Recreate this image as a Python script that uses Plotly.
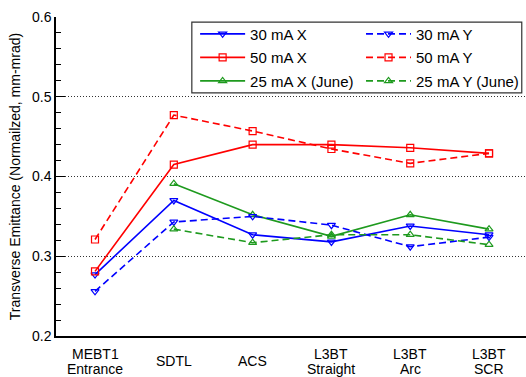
import plotly.graph_objects as go

# ---- data ----
categories = ["MEBT1 Entrance", "SDTL", "ACS", "L3BT Straight", "L3BT Arc", "L3BT SCR"]
cat_line1 = ["MEBT1", "SDTL", "ACS", "L3BT", "L3BT", "L3BT"]
cat_line2 = ["Entrance", "", "", "Straight", "Arc", "SCR"]

ma30_x = [0.277, 0.370, 0.327, 0.318, 0.338, 0.327]
ma30_y = [0.256, 0.343, 0.350, 0.339, 0.312, 0.324]
ma50_x = [0.281, 0.415, 0.440, 0.440, 0.436, 0.429]
ma50_y = [0.321, 0.477, 0.457, 0.4345, 0.4165, 0.429]
ma25_x = [None, 0.391, 0.352, 0.325, 0.352, 0.334]
ma25_y = [None, 0.334, 0.317, 0.327, 0.327, 0.3145]

y_ticks = [0.2, 0.3, 0.4, 0.5, 0.6]

BLUE = "#0000ff"
RED = "#ff0000"
GREEN = "#1e9a1e"
FONT = "Liberation Sans, Arial, sans-serif"

series = [
    ("30 mA X", ma30_x, BLUE, "solid", "triangle-down-open", "legend"),
    ("50 mA X", ma50_x, RED, "solid", "square-open", "legend"),
    ("25 mA X (June)", ma25_x, GREEN, "solid", "triangle-up-open", "legend"),
    ("30 mA Y", ma30_y, BLUE, "7px,4px", "triangle-down-open", "legend2"),
    ("50 mA Y", ma50_y, RED, "7px,4px", "square-open", "legend2"),
    ("25 mA Y (June)", ma25_y, GREEN, "7px,4px", "triangle-up-open", "legend2"),
]

fig = go.Figure()
for name, vals, color, dash, sym, leg in series:
    fig.add_trace(go.Scatter(
        x=categories, y=vals, name=name, mode="lines+markers",
        line=dict(color=color, width=1.6, dash=dash),
        marker=dict(symbol=sym, size=7, color=color, line=dict(width=1.2, color=color)),
        legend=leg, legendgroup=name,
    ))

annotations = []
for c, l1, l2 in zip(categories, cat_line1, cat_line2):
    if l2:
        annotations.append(dict(x=c, xref="x", y=0, yref="paper", text=l1, showarrow=False,
                                yanchor="middle", yshift=-18, font=dict(size=14, color="black", family=FONT)))
        annotations.append(dict(x=c, xref="x", y=0, yref="paper", text=l2, showarrow=False,
                                yanchor="middle", yshift=-33, font=dict(size=14, color="black", family=FONT)))
    else:
        annotations.append(dict(x=c, xref="x", y=0, yref="paper", text=l1, showarrow=False,
                                yanchor="middle", yshift=-25, font=dict(size=14, color="black", family=FONT)))

leg_common = dict(bgcolor="rgba(0,0,0,0)", borderwidth=0, font=dict(size=15, family=FONT, color="black"),
                  xanchor="left", yanchor="top", tracegroupgap=1, itemwidth=45)

fig.update_layout(
    width=526, height=377,
    margin=dict(l=56, r=0, t=17, b=41),
    paper_bgcolor="white", plot_bgcolor="white",
    font=dict(family=FONT, color="black"),
    showlegend=True,
    legend=dict(x=0.296, y=0.998, **leg_common),
    legend2=dict(x=0.649, y=0.998, **leg_common),
    annotations=annotations,
    shapes=[dict(type="rect", xref="paper", yref="paper", x0=0.289, x1=0.991, y0=0.762, y1=0.984,
                 line=dict(color="#333333", width=1.2), fillcolor="rgba(0,0,0,0)")],
    xaxis=dict(type="category", range=[-0.495, 5.469], showticklabels=False, ticks="",
               showgrid=False, showline=True, linecolor="black", linewidth=2, zeroline=False),
    yaxis=dict(range=[0.2, 0.6], tickvals=y_ticks, ticktext=[f"{v:.1f}" for v in y_ticks],
               ticks="inside", ticklen=9, tickcolor="black", tickwidth=1,
               tickfont=dict(size=14, family=FONT, color="black"),
               showgrid=True, gridcolor="#333333", griddash="1px,2px", gridwidth=1,
               showline=True, linecolor="black", linewidth=1.5, zeroline=False,
               minor=dict(dtick=0.02, ticks="inside", ticklen=5, tickcolor="black", showgrid=False),
               title=dict(text="Transverse Emittance (Normailzed, mm-mrad)",
                          font=dict(size=14, family=FONT, color="black"), standoff=8)),
)

fig.write_html("out.html")
